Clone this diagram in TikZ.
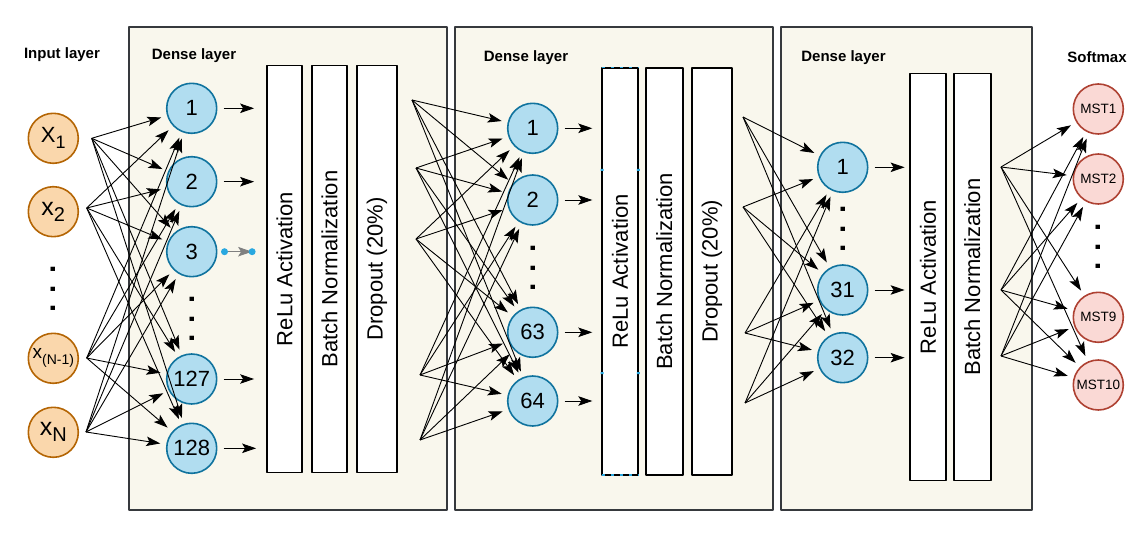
\documentclass[tikz,border=0pt]{standalone}
\usepackage{fontspec}
\setmainfont{Liberation Sans}
\usepackage{tikz}
\usetikzlibrary{calc, positioning, arrows.meta, shapes}

\definecolor{inpfill}{HTML}{FAD7AC}
\definecolor{inpstroke}{HTML}{B46504}
\definecolor{hidfill}{HTML}{B1DDF0}
\definecolor{hidstroke}{HTML}{10739E}
\definecolor{outfill}{HTML}{FAD9D5}
\definecolor{outstroke}{HTML}{AE4132}
\definecolor{boxfill}{HTML}{F9F7ED}
\definecolor{boxstroke}{HTML}{36393D}
\definecolor{selcol}{HTML}{29A8E0}

\newcommand{\lowsub}[2][18]{\raisebox{-6pt}{\fontsize{#1}{#1}\selectfont #2}}

\begin{document}
\begin{tikzpicture}[x=1pt,y=-1pt,line join=bevel,
  tip/.style={-{Stealth[length=14pt,width=9.5pt,inset=3pt]}},
  inp/.style={circle,draw=inpstroke,fill=inpfill,line width=1.6pt,minimum size=50pt,inner sep=0pt},
  hid/.style={circle,draw=hidstroke,fill=hidfill,line width=1.6pt,minimum size=50pt,inner sep=0pt,
    font=\fontsize{22}{22}\selectfont},
  outn/.style={circle,draw=outstroke,fill=outfill,line width=1.6pt,minimum size=50pt,inner sep=0pt,
    font=\fontsize{13.5}{13.5}\selectfont},
  layerbox/.style={draw=boxstroke,fill=boxfill,line width=1.8pt},
  bar/.style={draw=black,fill=white,line width=1.8pt,rotate=90,inner sep=0pt,minimum width=407pt,
    font=\fontsize{22}{22}\selectfont},
  title/.style={font=\bfseries\fontsize{15}{15}\selectfont},
  vdots/.style={rotate=90,anchor=base,inner sep=0pt,font=\bfseries\fontsize{30}{30}\selectfont},
  fan/.style={tip,line width=.9pt,shorten >=6pt},
  feed/.style={tip,line width=.9pt,shorten <=6pt}]
\useasboundingbox (0,0) rectangle (1145,534);
%%
  % Boxes
  \draw[layerbox] (129.3,26.7) rectangle (446.7,510);
  \draw[layerbox] (455,26.7) rectangle (772.7,510);
  \draw[layerbox] (780.7,26.7) rectangle (1032.3,510);
  % Titles
  \node[title] (tin) at (62,55) {Input layer};
  \node[title] (tda) at (194,55.5) {Dense layer};
  \node[title] (tdb) at (526,58) {Dense layer};
  \node[title] (tdc) at (843.5,58) {Dense layer};
  \node[title] (tsm) at (1097,57) {Softmax};
  % Node: input
  \node[inp,font=\fontsize{22}{22}\selectfont] (x1) at (53.3,138.3) {X\lowsub{1}};
  \node[inp,font=\fontsize{25}{25}\selectfont] (x2) at (53.3,211.7) {x\lowsub[20]{2}};
  \node[vdots] (din) at (55,289) {. . .};
  \node[inp,font=\fontsize{19}{19}\selectfont] (x3) at (53.3,358.3) {x\lowsub[14]{(N-1)}};
  \node[inp,font=\fontsize{25}{25}\selectfont] (x4) at (53.3,432.3) {x\lowsub[20]{N}};
  % Node: dense A
  \node[hid] (a1) at (191.7,108.3) {1};
  \node[hid] (a2) at (191.7,181.7) {2};
  \node[hid] (a3) at (191.7,251.7) {3};
  \node[vdots] (da) at (194,319) {. . .};
  \node[hid] (a4) at (191.7,379) {127};
  \node[hid] (a5) at (191.7,448.3) {128};
  \node[bar,minimum height=35pt] (reluA) at (284.5,269) {ReLu Activation};
  \node[bar,minimum height=35pt] (batchA) at (329.5,269) {Batch Normalization};
  \node[bar,minimum height=40pt] (dropA) at (377,269) {Dropout (20\%)};
  % Node: dense B
  \node[hid] (b1) at (532.7,128.3) {1};
  \node[hid] (b2) at (532.7,200) {2};
  \node[vdots] (db) at (535,268) {. . .};
  \node[hid] (b3) at (532.7,332.3) {63};
  \node[hid] (b4) at (532.7,401) {64};
  \node[bar,minimum height=36.6pt] (reluB) at (620,271.4) {ReLu Activation};
  \node[bar,minimum height=36.7pt] (batchB) at (664.3,271.4) {Batch Normalization};
  \node[bar,minimum height=40.6pt] (dropB) at (712,271.4) {Dropout (20\%)};
  % Node: dense C
  \node[hid] (c1) at (842.7,167.3) {1};
  \node[vdots] (dc) at (845,229) {. . .};
  \node[hid] (c2) at (842.7,290) {31};
  \node[hid] (c3) at (842.7,357.7) {32};
  \node[bar,minimum height=36pt] (reluC) at (928,277) {ReLu Activation};
  \node[bar,minimum height=37pt] (batchC) at (972.2,277) {Batch Normalization};
  % Node: softmax
  \node[outn] (s1) at (1098.3,109) {MST1};
  \node[outn] (s2) at (1098.3,179) {MST2};
  \node[vdots] (ds) at (1100.5,247) {. . .};
  \node[outn] (s3) at (1098.3,317.3) {MST9};
  \node[outn] (s4) at (1098.3,385) {MST10};
  % selection marks on reluB
  \draw[selcol,line width=1.2pt,dash pattern=on 3pt off 6pt] (602,67.7) -- (638.3,67.7);
  \draw[selcol,line width=1.2pt,dash pattern=on 3pt off 6pt] (602,475) -- (638.3,475);
  \fill[selcol] (600.5,169) rectangle (603.5,171) (636.8,169) rectangle (639.8,171)
    (600.5,372) rectangle (603.5,374) (636.8,372) rectangle (639.8,374);
  % Fan sources
  \coordinate (i1) at (91.7,138.3);
  \coordinate (i2) at (86.7,208);
  \coordinate (i3) at (86.7,358);
  \coordinate (i4) at (86,432);
  \coordinate (j1) at (412,100);
  \coordinate (j2) at (416,168);
  \coordinate (j3) at (416,239);
  \coordinate (j4) at (420,375);
  \coordinate (j5) at (420,440);
  \coordinate (k1) at (743,117);
  \coordinate (k2) at (743,207);
  \coordinate (k3) at (745,333);
  \coordinate (k4) at (745,403);
  \coordinate (m1) at (1001,167);
  \coordinate (m2) at (1001,290);
  \coordinate (m3) at (1001,356);
  % Edge: input -- dense A
  \path[fan] (i1) edge (a1) edge (a2) edge (a3) edge (a4) edge (a5);
  \path[fan] (i2) edge (a1) edge (a2) edge (a3) edge (a4) edge (a5);
  \path[fan] (i3) edge (a1) edge (a2) edge (a3) edge (a4) edge (a5);
  \path[fan] (i4) edge (a1) edge (a2) edge (a3) edge (a4) edge (a5);
  % Edge: dense A -- dense B
  \path[fan] (j1) edge (b1) edge (b2) edge (b3) edge (b4);
  \path[fan] (j2) edge (b1) edge (b2) edge (b3) edge (b4);
  \path[fan] (j3) edge (b1) edge (b2) edge (b3) edge (b4);
  \path[fan] (j4) edge (b1) edge (b2) edge (b3) edge (b4);
  \path[fan] (j5) edge (b1) edge (b2) edge (b3) edge (b4);
  % Edge: dense B -- dense C
  \path[fan] (k1) edge (c1) edge (c2) edge (c3);
  \path[fan] (k2) edge (c1) edge (c2) edge (c3);
  \path[fan] (k3) edge (c1) edge (c2) edge (c3);
  \path[fan] (k4) edge (c1) edge (c2) edge (c3);
  % Edge: dense C -- softmax
  \path[fan] (m1) edge (s1) edge (s2) edge (s3) edge (s4);
  \path[fan] (m2) edge (s1) edge (s2) edge (s3) edge (s4);
  \path[fan] (m3) edge (s1) edge (s2) edge (s3) edge (s4);
  % Edge: node -- bar
  \draw[feed,shorten >=12pt] (a1) -- (a1 -| reluA.north);
  \draw[feed,shorten >=12pt] (a2) -- (a2 -| reluA.north);
  \draw[tip,line width=.9pt,gray,shorten <=7pt,shorten >=14pt] (a3) -- (a3 -| reluA.north);
  \fill[selcol] ($(a3.east)+(7,0)$) circle (3.5pt) ($(a3 -| reluA.north)+(-14,0)$) circle (3.5pt);
  \draw[feed,shorten >=12pt] (a4) -- (a4 -| reluA.north);
  \draw[feed,shorten >=10pt] (a5) -- (a5 -| reluA.north);
  \draw[feed,shorten >=8.5pt] (b1) -- (b1 -| reluB.north);
  \draw[feed,shorten >=8.5pt] (b2) -- (b2 -| reluB.north);
  \draw[feed,shorten >=8.5pt] (b3) -- (b3 -| reluB.north);
  \draw[feed,shorten >=8.5pt] (b4) -- (b4 -| reluB.north);
  \draw[feed,shorten >=4.5pt] (c1) -- (c1 -| reluC.north);
  \draw[feed,shorten >=4.5pt] (c2) -- (c2 -| reluC.north);
  \draw[feed,shorten >=4.5pt] (c3) -- (c3 -| reluC.north);
%
\end{tikzpicture}
\end{document}
